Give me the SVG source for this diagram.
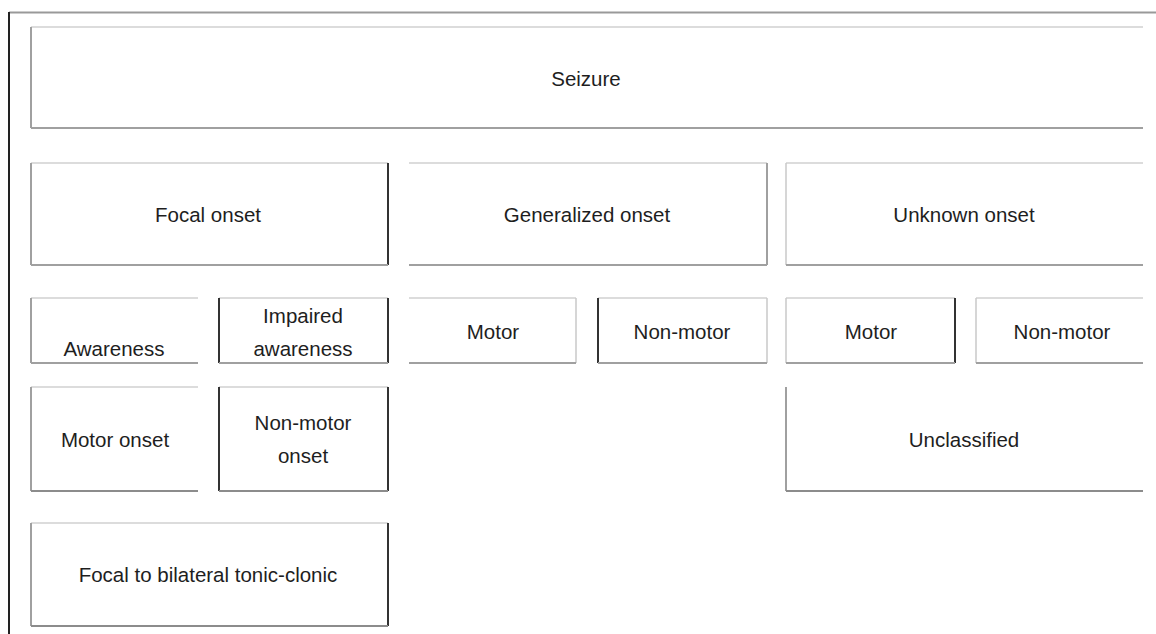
<svg xmlns="http://www.w3.org/2000/svg" width="1156" height="634" viewBox="0 0 1156 634">
<style>
.lt{stroke:#dcdcdc;stroke-width:2;fill:none}
.md{stroke:#a0a0a0;stroke-width:2;fill:none}
.bt{stroke:#8c8c8c;stroke-width:2;fill:none}
.dk{stroke:#333;stroke-width:2;fill:none}
.xl{stroke:#c8c8c8;stroke-width:1.5;fill:none}
text{font-family:"Liberation Sans",Arial,sans-serif;font-size:20.5px;fill:#1e1e1e;text-anchor:middle}
</style>
<rect width="1156" height="634" fill="#fff"/>
<g id="frame">
<line x1="9" y1="12.5" x2="1156" y2="12.5" stroke="#999" stroke-width="2"/>
<line x1="9" y1="12" x2="9" y2="634" stroke="#222" stroke-width="2"/>
</g>
<g id="connectors"></g>
<g id="seizure">
<line class="lt" x1="31" y1="27" x2="1143" y2="27"/>
<line class="md" x1="31" y1="27" x2="31" y2="128"/>
<line class="md" x1="31" y1="128" x2="1143" y2="128"/>
<text x="586" y="86">Seizure</text>
</g>
<g id="focal-onset">
<line class="lt" x1="31" y1="163" x2="388" y2="163"/>
<line class="md" x1="31" y1="163" x2="31" y2="265"/>
<line class="dk" x1="388" y1="163" x2="388" y2="265"/>
<line class="md" x1="31" y1="265" x2="388" y2="265"/>
<text x="208" y="222">Focal onset</text>
</g>
<g id="generalized-onset">
<line class="lt" x1="409" y1="163" x2="767" y2="163"/>
<line class="md" x1="767" y1="163" x2="767" y2="265"/>
<line class="md" x1="409" y1="265" x2="767" y2="265"/>
<text x="587" y="222">Generalized onset</text>
</g>
<g id="unknown-onset">
<line class="lt" x1="786" y1="163" x2="1143" y2="163"/>
<line class="xl" x1="786" y1="163" x2="786" y2="265"/>
<line class="md" x1="786" y1="265" x2="1143" y2="265"/>
<text x="964" y="222">Unknown onset</text>
</g>
<g id="awareness">
<line class="lt" x1="31" y1="298" x2="198" y2="298"/>
<line class="md" x1="31" y1="298" x2="31" y2="363"/>
<line class="md" x1="31" y1="363" x2="198" y2="363"/>
<text x="114" y="356">Awareness</text>
</g>
<g id="impaired-awareness">
<line class="lt" x1="219" y1="298" x2="388" y2="298"/>
<line class="dk" x1="219" y1="298" x2="219" y2="363" stroke="#555"/>
<line class="dk" x1="388" y1="298" x2="388" y2="363"/>
<line class="md" x1="219" y1="363" x2="388" y2="363"/>
<text x="303" y="323">Impaired</text>
<text x="303" y="356">awareness</text>
</g>
<g id="gen-motor">
<line class="lt" x1="409" y1="298" x2="576" y2="298"/>
<line class="xl" x1="576" y1="298" x2="576" y2="363"/>
<line class="md" x1="409" y1="363" x2="576" y2="363"/>
<text x="493" y="339">Motor</text>
</g>
<g id="gen-non-motor">
<line class="lt" x1="598" y1="298" x2="767" y2="298"/>
<line class="dk" x1="598" y1="298" x2="598" y2="363"/>
<line class="xl" x1="767" y1="298" x2="767" y2="363"/>
<line class="md" x1="598" y1="363" x2="767" y2="363"/>
<text x="682" y="339">Non-motor</text>
</g>
<g id="unk-motor">
<line class="lt" x1="786" y1="298" x2="955" y2="298"/>
<line class="xl" x1="786" y1="298" x2="786" y2="363"/>
<line class="dk" x1="955" y1="298" x2="955" y2="363"/>
<line class="md" x1="786" y1="363" x2="955" y2="363"/>
<text x="871" y="339">Motor</text>
</g>
<g id="unk-non-motor">
<line class="lt" x1="976" y1="298" x2="1143" y2="298"/>
<line class="xl" x1="976" y1="298" x2="976" y2="363"/>
<line class="md" x1="976" y1="363" x2="1143" y2="363"/>
<text x="1062" y="339">Non-motor</text>
</g>
<g id="motor-onset">
<line class="lt" x1="31" y1="387" x2="198" y2="387"/>
<line class="md" x1="31" y1="387" x2="31" y2="491"/>
<line class="bt" x1="31" y1="491" x2="198" y2="491" stroke="#666"/>
<text x="115" y="447">Motor onset</text>
</g>
<g id="non-motor-onset">
<line class="lt" x1="219" y1="387" x2="388" y2="387"/>
<line class="dk" x1="219" y1="387" x2="219" y2="491" stroke="#444"/>
<line class="dk" x1="388" y1="387" x2="388" y2="491"/>
<line class="bt" x1="219" y1="491" x2="388" y2="491" stroke="#555"/>
<text x="303" y="430">Non-motor</text>
<text x="303" y="463">onset</text>
</g>
<g id="unclassified">
<line class="md" x1="786" y1="387" x2="786" y2="491"/>
<line class="bt" x1="786" y1="491" x2="1143" y2="491" stroke="#666"/>
<text x="964" y="447">Unclassified</text>
</g>
<g id="focal-to-bilateral">
<line class="lt" x1="31" y1="523" x2="388" y2="523" stroke="#eee"/>
<line class="md" x1="31" y1="523" x2="31" y2="626"/>
<line class="dk" x1="388" y1="523" x2="388" y2="626"/>
<line class="bt" x1="31" y1="626" x2="388" y2="626" stroke="#555"/>
<text x="208" y="582">Focal to bilateral tonic-clonic</text>
</g>
</svg>
